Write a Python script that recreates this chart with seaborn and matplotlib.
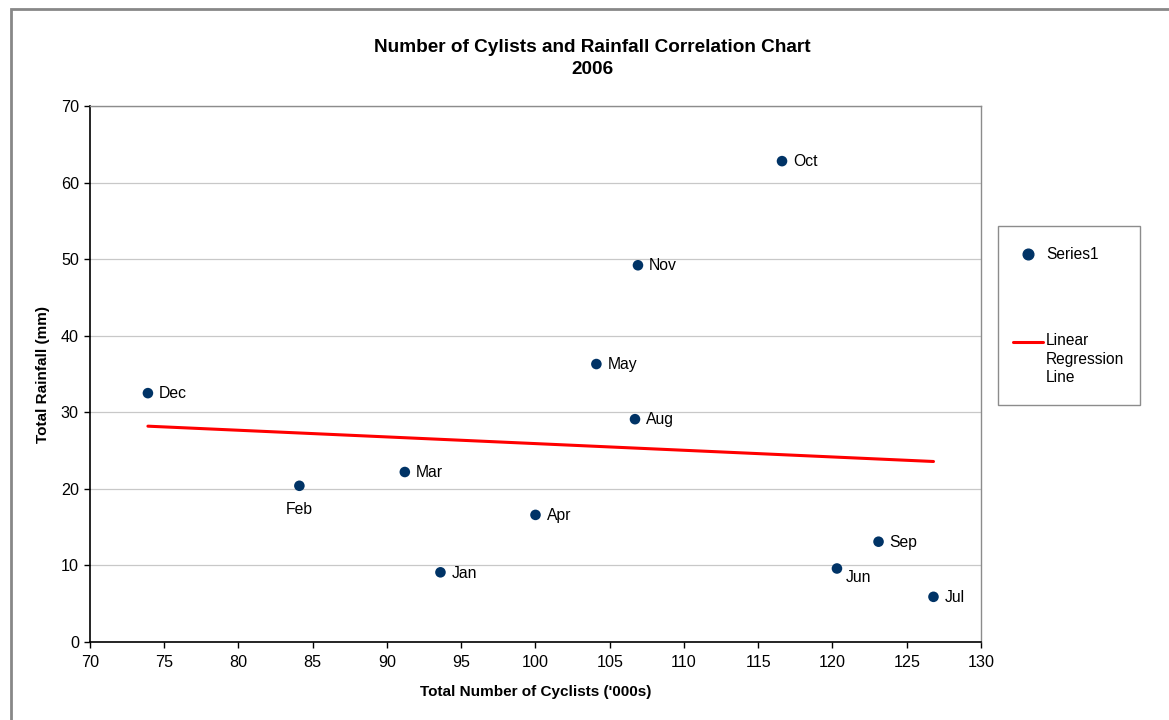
import matplotlib
matplotlib.use("Agg")
import matplotlib.pyplot as plt
from matplotlib.patches import Rectangle
from matplotlib.lines import Line2D
import seaborn as sns
import pandas as pd

# Monthly cyclist counts ('000s) and rainfall (mm), 2006
months = ["Jan", "Feb", "Mar", "Apr", "May", "Jun",
          "Jul", "Aug", "Sep", "Oct", "Nov", "Dec"]
cyclists = [93.6, 84.1, 91.2, 100.0, 104.1, 120.3,
            126.8, 106.7, 123.1, 116.6, 106.9, 73.9]
rainfall = [9.1, 20.4, 22.2, 16.6, 36.3, 9.6,
            5.9, 29.1, 13.1, 62.8, 49.2, 32.5]

x_ticks = list(range(70, 131, 5))
y_ticks = list(range(0, 71, 10))

df = pd.DataFrame({"month": months, "cyclists": cyclists, "rainfall": rainfall})

sns.set_theme(style="white")
plt.rcParams["font.family"] = ["Liberation Sans", "DejaVu Sans"]
for key in ("text.color", "axes.labelcolor", "xtick.color", "ytick.color",
            "xtick.labelcolor", "ytick.labelcolor"):
    plt.rcParams[key] = "black"

W, H = 1169, 720
fig = plt.figure(figsize=(W / 100, H / 100), dpi=100)
ax = fig.add_axes([90 / W, 1 - 642 / H, (981 - 90) / W, (642 - 106) / H])

navy = "#003366"
sns.scatterplot(data=df, x="cyclists", y="rainfall", ax=ax, color=navy,
                s=58, edgecolor="none", zorder=3, legend=False)
sns.regplot(data=df, x="cyclists", y="rainfall", ax=ax, scatter=False, ci=None,
            color="#ff0000", line_kws={"linewidth": 2.2, "zorder": 2})

# Point labels
offsets = {"Feb": (0, -12, "center", "top"), "Jun": (6, -1, "left", "top")}
for m, cx, ry in zip(months, cyclists, rainfall):
    dx, dy, ha, va = offsets.get(m, (8, -0.5, "left", "center"))
    ax.annotate(m, (cx, ry), xytext=(dx, dy), textcoords="offset points",
                ha=ha, va=va, fontsize=11.3, color="black")

ax.set_xlim(70, 130)
ax.set_ylim(0, 70)
ax.set_xticks(x_ticks)
ax.set_yticks(y_ticks)
ax.tick_params(axis="both", which="both", direction="out", length=4, width=1,
               color="black", labelsize=11.6, left=True, bottom=True)
ax.tick_params(axis="x", pad=5.5)
ax.tick_params(axis="y", pad=4)
ax.yaxis.grid(True, color="#c8c8c8", linewidth=0.9)
ax.xaxis.grid(False)
ax.set_axisbelow(True)
for side in ("left", "bottom"):
    ax.spines[side].set_color("black")
    ax.spines[side].set_linewidth(1.2)
for side in ("top", "right"):
    ax.spines[side].set_color("#8c8c8c")
    ax.spines[side].set_linewidth(1.0)

ax.set_xlabel("Total Number of Cyclists ('000s)", fontsize=11,
              fontweight="bold", labelpad=11)
ax.set_ylabel("Total Rainfall (mm)", fontsize=11, fontweight="bold", labelpad=8)

fig.text(592.5 / W, 1 - 58.5 / H, "Number of Cylists and Rainfall Correlation Chart\n2006",
         ha="center", va="center", fontsize=13.7, fontweight="bold", linespacing=1.45)

# Outer chart frame
fig.add_artist(Rectangle((10.5 / W, -0.05), 1.1, 1 - 8.5 / H + 0.05,
                         transform=fig.transFigure, fill=False,
                         edgecolor="#888888", linewidth=2.0))

# Legend box
lx0, ly0, lx1, ly1 = 998, 226, 1140, 405
fig.add_artist(Rectangle((lx0 / W, 1 - ly1 / H), (lx1 - lx0) / W, (ly1 - ly0) / H,
                         transform=fig.transFigure, fill=True, facecolor="white",
                         edgecolor="#8c8c8c", linewidth=1.0))
fig.add_artist(Line2D([1028 / W], [1 - 254 / H], transform=fig.transFigure,
                      marker="o", markersize=7.7, color=navy, linestyle="none"))
fig.text(1046 / W, 1 - 254 / H, "Series1", ha="left", va="center", fontsize=11.2)
fig.add_artist(Line2D([1013 / W, 1043 / W], [1 - 342 / H, 1 - 342 / H],
                      transform=fig.transFigure, color="#ff0000", linewidth=2.2))
fig.text(1046 / W, 1 - 333 / H, "Linear\nRegression\nLine", ha="left", va="top",
         fontsize=11.2, linespacing=1.3)

fig.savefig("out.png", dpi=100, facecolor="white")
